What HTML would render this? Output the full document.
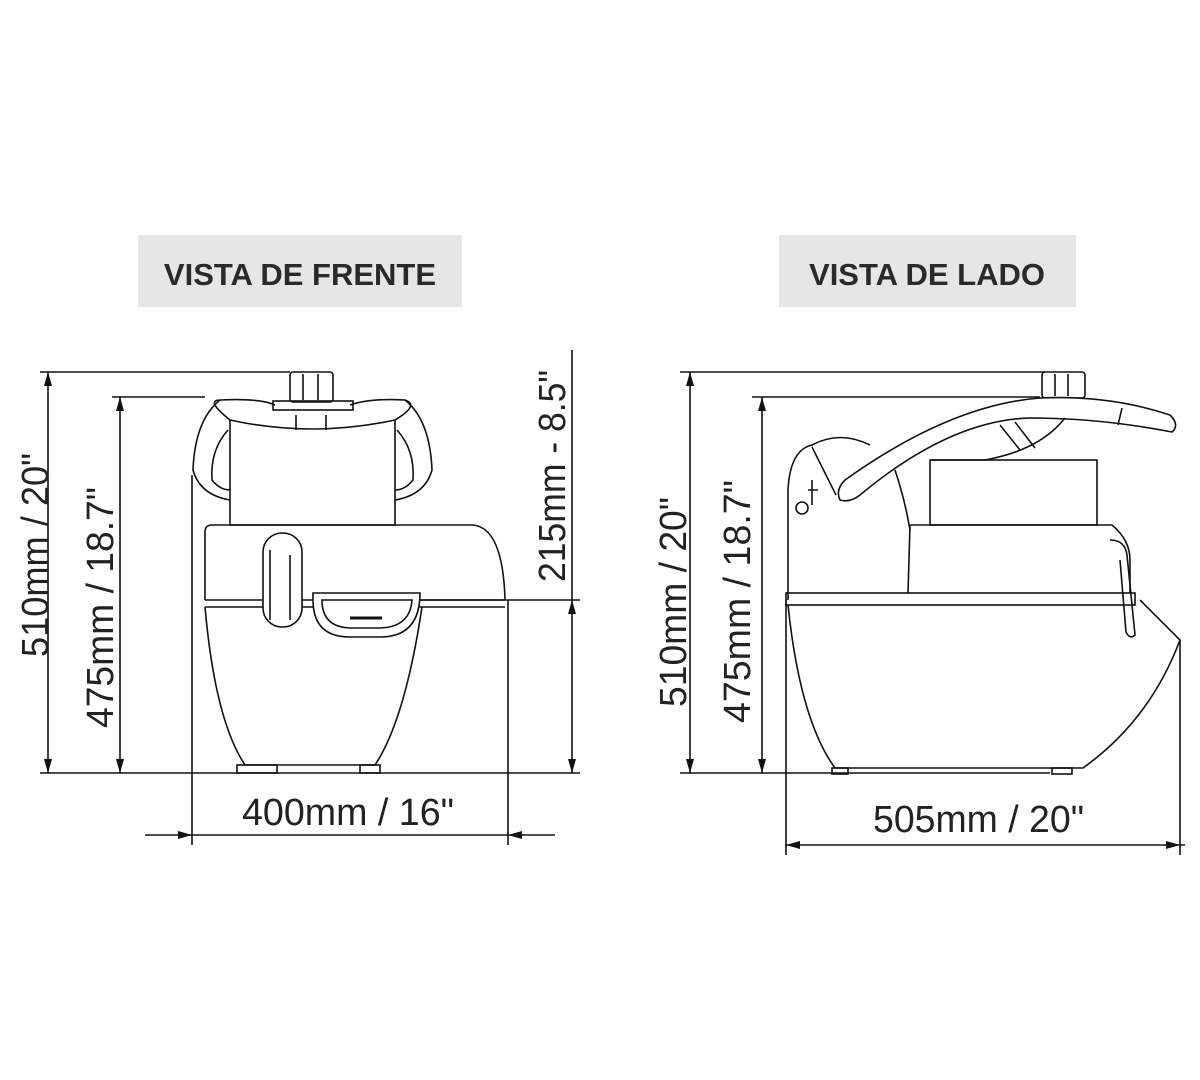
<!DOCTYPE html>
<html><head><style>
body{margin:0;background:#fff}
svg{display:block}
text{font-family:"Liberation Sans",Arial,sans-serif;fill:#222}
.t{font-weight:bold;font-size:31px;fill:#2a2a2a}
.d{font-size:38px}
</style></head><body>
<svg width="1200" height="1080" viewBox="0 0 1200 1080" xmlns="http://www.w3.org/2000/svg">
<rect x="138" y="235" width="324" height="72" fill="#e6e6e6"/>
<text class="t" x="300" y="285" text-anchor="middle">VISTA DE FRENTE</text>
<rect x="779" y="235" width="297" height="72" fill="#e6e6e6"/>
<text class="t" x="927" y="285" text-anchor="middle">VISTA DE LADO</text>

<g stroke="#111" stroke-width="1.6" fill="none">
<!-- FRONT dims -->
<line x1="40" y1="372" x2="290" y2="372"/>
<line x1="112" y1="397" x2="205" y2="397"/>
<line x1="48" y1="372" x2="48" y2="773"/>
<line x1="120" y1="397" x2="120" y2="773"/>
<line x1="40" y1="773" x2="580" y2="773"/>
<line x1="192" y1="475" x2="192" y2="845"/>
<line x1="508" y1="600" x2="508" y2="845"/>
<line x1="145" y1="835" x2="555" y2="835"/>
<line x1="572" y1="350" x2="572" y2="773"/>
<line x1="420" y1="600" x2="580" y2="600"/>
<!-- front machine -->
<rect x="290" y="372" width="43" height="30" rx="3"/>
<line x1="303" y1="374" x2="303" y2="400"/><line x1="318" y1="374" x2="318" y2="400"/>
<rect x="273" y="401" width="80" height="9"/>
<path d="M230 420 Q312 438 395 420 L395 525 L230 525 Z"/>
<line x1="296" y1="415" x2="296" y2="430"/><line x1="326" y1="415" x2="326" y2="430"/>
<path d="M230 420 Q205 400 220 400 Q260 398 275 405 M350 405 Q370 398 405 400 Q420 405 395 420"/>
<path d="M220 400 Q195 420 193 470 Q200 495 230 500 M228 430 Q210 450 212 480 Q220 490 230 490"/>
<path d="M405 400 Q430 420 432 470 Q425 495 395 500 M397 430 Q415 450 413 480 Q405 490 395 490"/>
<path d="M205 600 L205 532 Q205 525 212 525 L473 525 Q503 528 505 600"/>
<line x1="205" y1="600" x2="505" y2="600"/><line x1="205" y1="607" x2="505" y2="607"/>
<path d="M205 607 Q215 720 245 765 L375 765 Q405 720 422 607"/>
<rect x="237" y="765" width="40" height="8"/><rect x="360" y="765" width="20" height="8"/>
<rect x="263" y="533" width="39" height="94" rx="19" fill="#fff"/>
<line x1="270" y1="550" x2="270" y2="620"/><line x1="290" y1="555" x2="290" y2="620"/>
<path d="M313 593 L420 593 Q420 637 380 637 L350 637 Q313 637 313 600 Z" fill="#fff"/>
<path d="M322 600 L412 600 Q410 628 378 628 L352 628 Q322 628 322 600 Z"/>
<line x1="350" y1="618" x2="382" y2="618" stroke-width="3"/>

<!-- SIDE dims -->
<line x1="680" y1="372" x2="1045" y2="372"/>
<line x1="752" y1="397" x2="1040" y2="397"/>
<line x1="690" y1="372" x2="690" y2="773"/>
<line x1="762" y1="397" x2="762" y2="773"/>
<line x1="680" y1="773" x2="1050" y2="773"/>
<line x1="786" y1="600" x2="786" y2="855"/>
<line x1="1180" y1="640" x2="1180" y2="855"/>
<line x1="785" y1="845" x2="1185" y2="845"/>
<!-- side machine -->
<rect x="1042" y="372" width="43" height="26" rx="3"/>
<line x1="1055" y1="374" x2="1055" y2="396"/><line x1="1068" y1="374" x2="1068" y2="396"/>
<path d="M840 500 Q835 490 845 480 Q950 405 1040 398 Q1110 395 1170 415 Q1180 425 1172 432 Q1100 418 1030 418 Q950 420 860 495 Q850 503 840 500 Z" fill="#fff"/>
<line x1="1122" y1="408" x2="1118" y2="425"/>
<path d="M1000 425 L1020 450 M1015 422 L1035 448 M1065 418 Q1040 450 985 460 L930 460"/>
<rect x="930" y="460" width="167" height="65"/>
<path d="M788 600 L788 490 Q790 450 812 445 Q840 430 870 445 M812 447 L836 495 M895 470 Q905 500 910 530"/>
<circle cx="802" cy="508" r="6"/><path d="M812 480 L812 505 M808 490 L818 490"/>
<path d="M910 525 L1112 525 Q1130 540 1130 560 L1130 593 M910 525 L908 593"/>
<path d="M1110 540 Q1125 540 1127 555 L1135 635 Q1130 640 1126 632 L1120 560"/>
<rect x="786" y="593" width="349" height="12"/>
<path d="M1140 600 L1180 640 Q1150 720 1083 768 L835 768 Q800 720 788 605"/>
<rect x="832" y="768" width="16" height="6"/><rect x="1052" y="768" width="20" height="6"/>
</g>
<g fill="#111">
<path d="M192 835 L178 831 L178 839 Z"/><path d="M508 835 L522 831 L522 839 Z"/>
<path d="M786 845 L800 841 L800 849 Z"/><path d="M1180 845 L1166 841 L1166 849 Z"/>
<path d="M48 372 L44 386 L52 386 Z"/><path d="M48 773 L44 759 L52 759 Z"/>
<path d="M120 397 L116 411 L124 411 Z"/><path d="M120 773 L116 759 L124 759 Z"/>
<path d="M572 600 L568 614 L576 614 Z"/><path d="M572 773 L568 759 L576 759 Z"/>
<path d="M690 372 L686 386 L694 386 Z"/><path d="M690 773 L686 759 L694 759 Z"/>
<path d="M762 397 L758 411 L766 411 Z"/><path d="M762 773 L758 759 L766 759 Z"/>
</g>

<text class="d" x="242" y="825" textLength="212" lengthAdjust="spacingAndGlyphs">400mm / 16"</text>
<text class="d" x="873" y="832" textLength="211" lengthAdjust="spacingAndGlyphs">505mm / 20"</text>
<text class="d" transform="translate(48,657) rotate(-90)" textLength="204" lengthAdjust="spacingAndGlyphs">510mm / 20"</text>
<text class="d" transform="translate(113,728) rotate(-90)" textLength="241" lengthAdjust="spacingAndGlyphs">475mm / 18.7"</text>
<text class="d" transform="translate(565,582) rotate(-90)" textLength="212" lengthAdjust="spacingAndGlyphs">215mm - 8.5"</text>
<text class="d" transform="translate(686,707) rotate(-90)" textLength="210" lengthAdjust="spacingAndGlyphs">510mm / 20"</text>
<text class="d" transform="translate(750,723) rotate(-90)" textLength="243" lengthAdjust="spacingAndGlyphs">475mm / 18.7"</text>
</svg>
</body></html>
